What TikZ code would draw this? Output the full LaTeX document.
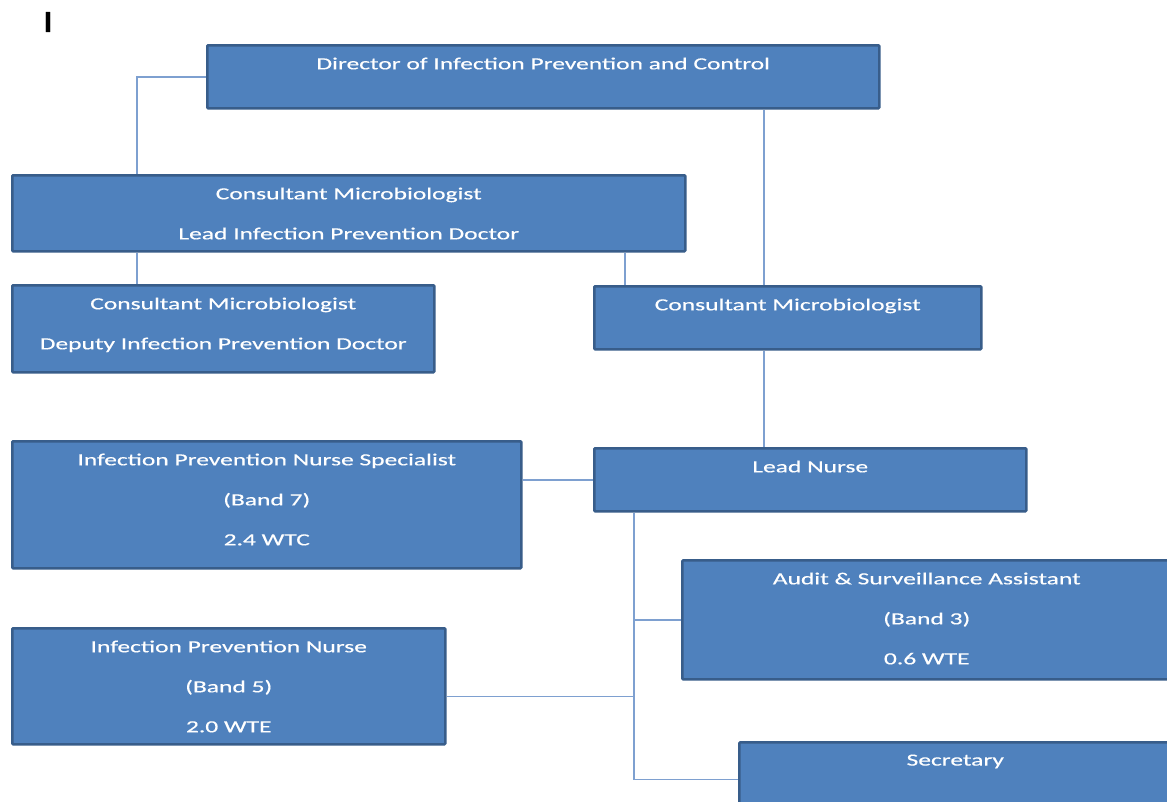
\documentclass[tikz,border=0pt]{standalone}
\usepackage{fontspec}
\setmainfont{Carlito}[FakeStretch=1.5,FakeBold=0.4]
\definecolor{boxfill}{RGB}{79,129,189}
\definecolor{boxedge}{RGB}{56,93,138}
\definecolor{linkcol}{RGB}{126,160,208}
\tikzset{
  box/.style={draw=boxedge, fill=boxfill, line width=2.5pt, anchor=north west,
    inner sep=0pt, rounded corners=1pt},
  boxtext/.style={anchor=north, yshift=-10pt, text=white, align=center,
    font=\fontsize{17}{40}\selectfont},
  link/.style={draw=linkcol, line width=1.5pt}
}
\begin{document}
\begin{tikzpicture}[x=1pt,y=-1pt]
          \useasboundingbox (0,0) rectangle (1167,801);
          \fill[white] (0,0) rectangle (1167,801);
          \clip (0,0) rectangle (1167,801);

          \node (mark) at (48,22) {\fontsize{31}{33}\selectfont I};

          % boxes
          \node[box, minimum width=672pt, minimum height=63pt] (dir) at (206,44)
            [label={[boxtext]north:{Director of Infection Prevention and Control}}] {};
          \node[box, minimum width=673pt, minimum height=76pt] (lead) at (11,174)
            [label={[boxtext]north:{Consultant Microbiologist\\Lead Infection Prevention Doctor}}] {};
          \node[box, minimum width=422pt, minimum height=87pt] (dep) at (11,284)
            [label={[boxtext]north:{Consultant Microbiologist\\Deputy Infection Prevention Doctor}}] {};
          \node[box, minimum width=387pt, minimum height=63pt] (cons) at (593,285)
            [label={[boxtext]north:{Consultant Microbiologist}}] {};
          \node[box, minimum width=509pt, minimum height=127pt] (ipns) at (11,440)
            [label={[boxtext]north:{Infection Prevention Nurse Specialist\\(Band 7)\\2.4 WTC}}] {};
          \node[box, minimum width=432pt, minimum height=63pt] (lnurse) at (593,447)
            [label={[boxtext]north:{Lead Nurse}}] {};
          \node[box, minimum width=489pt, minimum height=119pt] (aud) at (681,559)
            [label={[boxtext]north:{Audit \& Surveillance Assistant\\(Band 3)\\0.6 WTE}}] {};
          \node[box, minimum width=433pt, minimum height=116pt] (ipn) at (11,627)
            [label={[boxtext]north:{Infection Prevention Nurse\\(Band 5)\\2.0 WTE}}] {};
          \node[box, minimum width=432pt, minimum height=74pt] (sec) at (738,741)
            [label={[boxtext]north:{Secretary}}] {};

          % links
          \coordinate (trunk) at ([xshift=41pt]lnurse.south west);
          \draw[link] (dir.west) -| ([xshift=126pt]lead.north west);
          \draw[link] ([xshift=558pt]dir.south west) -- ([xshift=171pt]cons.north west);
          \draw[link] ([xshift=126pt]lead.south west) -- ([xshift=126pt]dep.north west);
          \draw[link] ([xshift=614pt]lead.south west) -- ([xshift=32pt]cons.north west);
          \draw[link] ([xshift=171pt]cons.south west) -- ([xshift=171pt]lnurse.north west);
          \draw[link] (lnurse.west) -- (lnurse.west -| ipns.east);
          \draw[link] (trunk) |- (sec.west);
          \draw[link] (aud.west) -- (aud.west -| trunk);
          \draw[link] ([yshift=-10pt]ipn.east) -- ([yshift=-10pt]ipn.east -| trunk);
        \end{tikzpicture}
\end{document}
